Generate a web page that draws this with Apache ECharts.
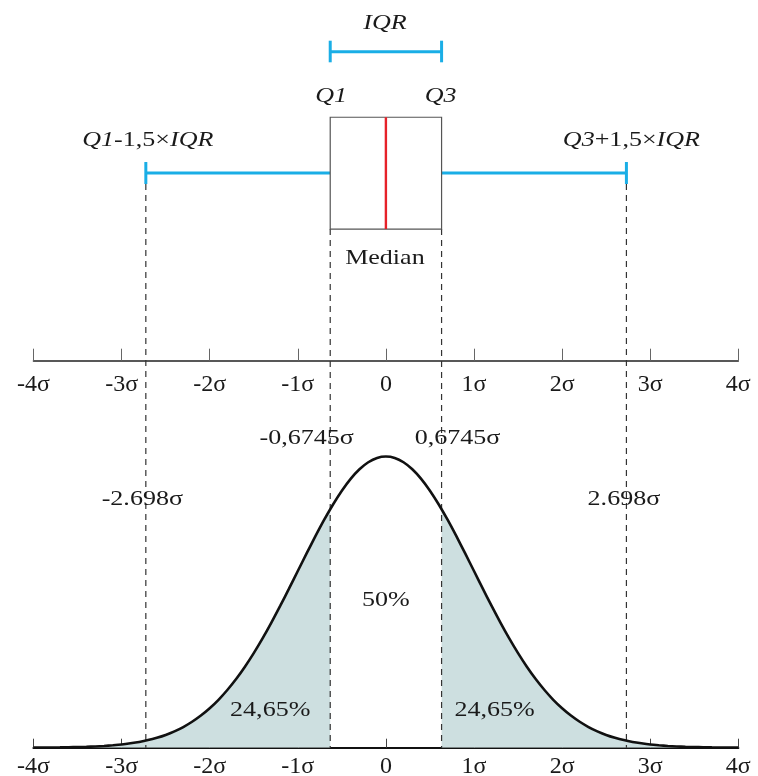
<!DOCTYPE html>
<html><head><meta charset="utf-8">
<script src="https://cdn.jsdelivr.net/npm/echarts@6/dist/echarts.min.js"></script>
<style>html,body{margin:0;padding:0;background:#fff}#c{width:758px;height:776px}</style>
</head><body><div id="c"></div>
<script>
// ---------- data ----------
const tickValues = [-4, -3, -2, -1, 0, 1, 2, 3, 4];
const tickLabels = ['-4σ', '-3σ', '-2σ', '-1σ', '0', '1σ', '2σ', '3σ', '4σ'];
// lower fence, Q1, median, Q3, upper fence (σ units, as drawn)
const boxStats = [-2.725, -0.632, 0, 0.632, 2.73];
// normal curve samples (x in σ, density)
const curveX = [-4, -3.9, -3.8, -3.7, -3.6, -3.5, -3.4, -3.3, -3.2, -3.1, -3, -2.9, -2.8, -2.7, -2.6, -2.5, -2.4, -2.3, -2.2, -2.1,
  -2, -1.9, -1.8, -1.7, -1.6, -1.5, -1.4, -1.3, -1.2, -1.1, -1, -0.9, -0.8, -0.7, -0.6, -0.5, -0.4, -0.3, -0.2, -0.1,
  0, 0.1, 0.2, 0.3, 0.4, 0.5, 0.6, 0.7, 0.8, 0.9, 1, 1.1, 1.2, 1.3, 1.4, 1.5, 1.6, 1.7, 1.8, 1.9,
  2, 2.1, 2.2, 2.3, 2.4, 2.5, 2.6, 2.7, 2.8, 2.9, 3, 3.1, 3.2, 3.3, 3.4, 3.5, 3.6, 3.7, 3.8, 3.9, 4];
const curveY = [0.0001, 0.0002, 0.0003, 0.0004, 0.0006, 0.0009, 0.0012, 0.0017, 0.0024, 0.0033, 0.0044, 0.0060, 0.0079, 0.0104, 0.0136, 0.0175, 0.0224, 0.0283, 0.0355, 0.0440,
  0.0540, 0.0656, 0.0790, 0.0940, 0.1109, 0.1295, 0.1497, 0.1714, 0.1942, 0.2179, 0.2420, 0.2661, 0.2897, 0.3123, 0.3332, 0.3521, 0.3683, 0.3814, 0.3910, 0.3970,
  0.3989, 0.3970, 0.3910, 0.3814, 0.3683, 0.3521, 0.3332, 0.3123, 0.2897, 0.2661, 0.2420, 0.2179, 0.1942, 0.1714, 0.1497, 0.1295, 0.1109, 0.0940, 0.0790, 0.0656,
  0.0540, 0.0440, 0.0355, 0.0283, 0.0224, 0.0175, 0.0136, 0.0104, 0.0079, 0.0060, 0.0044, 0.0033, 0.0024, 0.0017, 0.0012, 0.0009, 0.0006, 0.0004, 0.0003, 0.0002, 0.0001];
const quartileDensity = 0.3267; // curve height where it meets the Q1 / Q3 lines
const titleLabels = ['{i|IQR}', '{i|Q1}', '{i|Q3}', 'Median'];
const fenceLabels = ['{i|Q1}-1,5×{i|IQR}', '{i|Q3}+1,5×{i|IQR}'];
const sigmaLabels = ['-2.698σ', '-0,6745σ', '0,6745σ', '2.698σ'];
const areaLabels = ['24,65%', '50%', '24,65%'];

// ---------- layout (y in plot units: 0 = lower axis, 1 = top of plot) ----------
const L = {
  iqrY: 0.9534, iqrCapTop: 0.9685, iqrCapBot: 0.9389,
  boxTop: 0.8636, boxBot: 0.7105,
  whiskY: 0.7873, capTop: 0.8023, capBot: 0.7722,
  tIQR: 0.9915, tQ: 0.8914, tFence: 0.8323, tMedian: 0.6695,
  tQuart: 0.4229, tFenceSig: 0.3407, t50: 0.2023, t2465: 0.0516
};
const FONT = '"Liberation Serif", "Times New Roman", serif';
const FS = 21, SX = 1.24;
const INK = '#1a1a1a';
const BLUE = '#1aaee6';

const leftTail = [], rightTail = [], curve = [];
curveX.forEach((x, i) => {
  curve.push([x, curveY[i]]);
  if (x < boxStats[1]) leftTail.push([x, curveY[i]]);
});
leftTail.push([boxStats[1], quartileDensity]);
rightTail.push([boxStats[3], quartileDensity]);
curveX.forEach((x, i) => { if (x > boxStats[3]) rightTail.push([x, curveY[i]]); });

function tickFmt(v) { const i = tickValues.indexOf(Math.round(v)); return i >= 0 ? tickLabels[i] : ''; }

function txt(p, text, dx, italic) {
  return {
    type: 'text', x: p[0] + (dx || 0), y: p[1], scaleX: SX,
    style: {
      text: text, fill: INK, fontFamily: FONT, fontSize: FS, fontStyle: italic ? 'italic' : 'normal',
      align: 'center', verticalAlign: 'middle', textAlign: 'center', textVerticalAlign: 'middle',
      rich: { i: { fontStyle: 'italic', fontFamily: FONT, fontSize: FS, fill: INK } }
    }
  };
}
function seg(a, b, style) { return { type: 'line', shape: { x1: a[0], y1: a[1], x2: b[0], y2: b[1] }, style: style }; }

function renderDiagram(params, api) {
  const [lo, q1, med, q3, hi] = boxStats;
  const P = (x, y) => api.coord([x, y]);
  const blue = { stroke: BLUE, lineWidth: 3 };
  const dash = { stroke: '#333', lineWidth: 1.2, lineDash: [6, 5] };
  const ch = [];
  ch.push(seg(P(lo, L.capBot), P(lo, 0), dash));
  ch.push(seg(P(hi, L.capBot), P(hi, 0), dash));
  ch.push(seg(P(q1, L.boxBot), P(q1, 0), dash));
  ch.push(seg(P(q3, L.boxBot), P(q3, 0), dash));
  ch.push(seg(P(lo, L.whiskY), P(q1, L.whiskY), blue));
  ch.push(seg(P(q3, L.whiskY), P(hi, L.whiskY), blue));
  ch.push(seg(P(lo, L.capTop), P(lo, L.capBot), blue));
  ch.push(seg(P(hi, L.capTop), P(hi, L.capBot), blue));
  ch.push(seg(P(q1, L.iqrY), P(q3, L.iqrY), blue));
  ch.push(seg(P(q1, L.iqrCapTop), P(q1, L.iqrCapBot), blue));
  ch.push(seg(P(q3, L.iqrCapTop), P(q3, L.iqrCapBot), blue));
  const a = P(q1, L.boxTop), b = P(q3, L.boxBot);
  ch.push({ type: 'rect', shape: { x: a[0], y: a[1], width: b[0] - a[0], height: b[1] - a[1] },
    style: { fill: '#fff', stroke: '#555', lineWidth: 1.2 } });
  ch.push(seg(P(med, L.boxTop), P(med, L.boxBot), { stroke: '#e62129', lineWidth: 2.4 }));
  ch.push(txt(P(med, L.tIQR), titleLabels[0], -1));
  ch.push(txt(P(q1, L.tQ), titleLabels[1], 1));
  ch.push(txt(P(q3, L.tQ), titleLabels[2], -1));
  ch.push(txt(P(med, L.tMedian), titleLabels[3], -1));
  ch.push(txt(P(lo, L.tFence), fenceLabels[0], 2));
  ch.push(txt(P(hi, L.tFence), fenceLabels[1], 5));
  ch.push(txt(P(lo, L.tFenceSig), sigmaLabels[0], -3.5));
  ch.push(txt(P(q1, L.tQuart), sigmaLabels[1], -23.5));
  ch.push(txt(P(q3, L.tQuart), sigmaLabels[2], 16));
  ch.push(txt(P(hi, L.tFenceSig), sigmaLabels[3], -2.5));
  ch.push(txt(P(q1, L.t2465), areaLabels[0], -60));
  ch.push(txt(P(med, L.t50), areaLabels[1], 0));
  ch.push(txt(P(q3, L.t2465), areaLabels[2], 53));
  return { type: 'group', children: ch };
}

const baseAxis = {
  type: 'value', min: -4, max: 4, interval: 1,
  splitLine: { show: false },
  axisLine: { show: true, onZero: false, lineStyle: { color: '#222', width: 1.6 } },
  axisLabel: { formatter: tickFmt, color: INK, fontFamily: FONT, fontSize: 24, showMinLabel: true, showMaxLabel: true, hideOverlap: false }
};

const chart = echarts.init(document.getElementById('c'), null, { renderer: 'canvas' });
chart.setOption({
  animation: false,
  backgroundColor: '#fff',
  grid: { left: 33.5, right: 19.7, top: 17.7, bottom: 28.3, containLabel: false, outerBoundsMode: 'none' },
  xAxis: [
    Object.assign({}, baseAxis, {
      position: 'bottom',
      axisLine: { show: true, onZero: false, lineStyle: { color: '#111', width: 2.2 } },
      axisTick: { show: true, inside: true, length: 9, lineStyle: { color: '#444', width: 1 } },
      axisLabel: Object.assign({}, baseAxis.axisLabel, { margin: 7 })
    }),
    Object.assign({}, baseAxis, {
      position: 'bottom', offset: -387,
      axisTick: { show: true, inside: true, length: 12, lineStyle: { color: '#666', width: 1 } },
      axisLabel: Object.assign({}, baseAxis.axisLabel, { margin: 12 })
    })
  ],
  yAxis: { type: 'value', min: 0, max: 1, show: false },
  series: [
    { type: 'line', data: leftTail, smooth: 0.3, symbol: 'none', lineStyle: { width: 0 },
      areaStyle: { color: '#cddfe0', opacity: 1 }, z: 1 },
    { type: 'line', data: rightTail, smooth: 0.3, symbol: 'none', lineStyle: { width: 0 },
      areaStyle: { color: '#cddfe0', opacity: 1 }, z: 1 },
    { type: 'custom', data: [[0, 0]], renderItem: renderDiagram, clip: false, z: 2, silent: true },
    { type: 'line', data: curve, smooth: 0.3, symbol: 'none', lineStyle: { color: '#111', width: 2.6 }, z: 3 }
  ]
});
</script></body></html>
